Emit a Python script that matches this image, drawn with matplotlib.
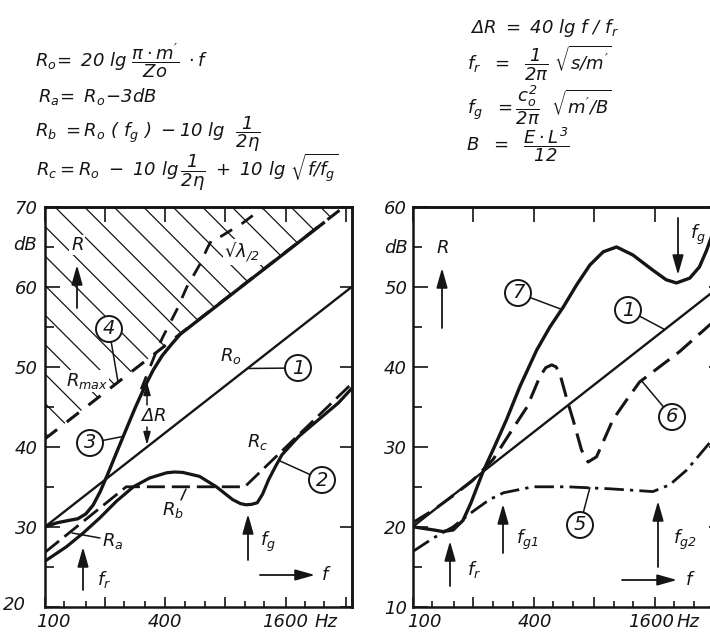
"""
Schalldämmung einschaliger / zweischaliger Bauteile – Nachzeichnung als PNG.
"""
import numpy as np
import matplotlib
matplotlib.use("Agg")
import matplotlib.pyplot as plt
from matplotlib import font_manager as fm
from matplotlib.patches import FancyArrowPatch
from matplotlib.ticker import FixedLocator, NullFormatter, NullLocator
from matplotlib.transforms import offset_copy


def _font(names):
    for n in names:
        try:
            fm.findfont(fm.FontProperties(family=n), fallback_to_default=False)
            return n
        except ValueError:
            pass
    return "DejaVu Sans"


FONT = _font(["Liberation Sans Narrow", "DejaVu Sans"])
NARROW = FONT != "DejaVu Sans"

plt.rcParams.update({
    "font.family": FONT,
    "font.style": "italic",
    "mathtext.fontset": "custom",
    "mathtext.rm": FONT,
    "mathtext.it": FONT + ":italic",
    "mathtext.bf": FONT + ":bold",
    "mathtext.sf": FONT,
    "mathtext.default": "it",
    "mathtext.fallback": "stixsans",
    "axes.linewidth": 1.8,
})

K = "#151515"
FIG_W, FIG_H = 710, 634
FS_TICK = 16 if NARROW else 13
FS_FORM = 16.5 if NARROW else 13
FS_LBL = 16 if NARROW else 13
FS_CIRC = 17 if NARROW else 14

# ── Achsen ────────────────────────────────────────────────────────────────────
F_LIM = (100, 3430)
TERZ = [100, 125, 160, 200, 250, 315, 400, 500, 630, 800, 1000, 1250, 1600, 2000, 2500]
OKTAV = [100, 200, 400, 800, 1600, 3200]
X_LBL = ["100", "400", "1600"]
X_LBL_F = [100, 400, 1600]
Y_L = [20, 30, 40, 50, 60, 70]
Y_L_LBL = ["", "30", "40", "50", "60", "70"]
Y_R = [10, 20, 30, 40, 50, 60]
Y_R_LBL = ["10", "20", "30", "40", "50", "60"]

# ── linkes Diagramm ──────────────────────────────────────────────────────────
R0_L_F = [100, 3430]
R0_L_DB = [30.0, 60.0]
RABC_F = [100, 255, 1000, 3430]
RABC_DB = [26.8, 35.0, 35.0, 47.9]
K2_F = [100, 128, 155, 188, 228, 277, 334, 406, 444, 489, 594, 721, 869, 951,
        1013, 1078, 1155, 1229, 1317, 1422, 1535, 1863, 2342, 2944, 3430]
K2_DB = [25.7, 27.5, 29.2, 31.1, 33.2, 35.0, 36.1, 36.75, 36.85, 36.8, 36.3, 35.0,
         33.4, 32.9, 32.75, 32.8, 33.0, 34.1, 35.9, 37.5, 39.0, 41.3, 43.4, 45.5, 47.3]
K3_F = [100, 115, 132, 146, 160, 174, 189, 207, 230, 255, 283, 314, 348, 386, 429, 476, 2476]
K3_DB = [30.0, 30.5, 30.8, 31.0, 31.6, 32.7, 34.4, 36.7, 39.5, 42.2, 44.9, 47.4,
         49.6, 51.4, 52.8, 54.1, 68.0]
RMAX_F = [100, 3130]
RMAX_DB = [41.0, 70.0]
L2_F = [303, 336, 363, 389, 456, 513, 594, 654, 692, 752, 978, 1188, 1240]
L2_DB = [47.2, 50.0, 52.1, 53.75, 57.1, 60.0, 62.75, 65.0, 66.1, 66.25, 68.0, 69.6, 70.0]

# ── rechtes Diagramm ─────────────────────────────────────────────────────────
R0_R_F = [100, 3430]
R0_R_DB = [20.0, 50.2]
K7_F = [100, 127, 141, 159, 178, 195, 224, 255, 293, 341, 414, 482, 562, 654, 762,
        888, 1034, 1246, 1567, 1825, 2054, 2392, 2672, 2904, 3091, 3313]
K7_DB = [20.0, 19.6, 19.4, 19.6, 20.8, 23.0, 26.9, 30.0, 33.4, 37.5, 42.1, 45.0,
         47.5, 50.25, 52.75, 54.4, 55.0, 54.0, 52.1, 50.9, 50.5, 51.1, 52.5, 54.6, 56.5, 59.0]
K6_F = [100, 127, 159, 197, 251, 312, 371, 429, 459, 492, 517, 539, 586, 628, 692,
        746, 822, 992, 1163, 1345, 1691, 2126, 3006, 3430]
K6_DB = [20.5, 22.1, 23.9, 25.7, 28.4, 32.1, 35.0, 38.75, 39.9, 40.25, 40.0, 39.2,
         35.9, 33.4, 29.6, 28.1, 28.75, 33.4, 35.9, 38.1, 40.0, 41.9, 45.25, 46.3]
K5_F = [100, 127, 159, 199, 241, 283, 397, 586, 958, 1567, 1902, 2310, 3006, 3430]
K5_DB = [16.9, 18.6, 20.0, 21.9, 23.4, 24.25, 25.0, 25.0, 24.75, 24.4, 25.25, 27.1, 30.5, 32.3]


fig = plt.figure(figsize=(FIG_W / 100, FIG_H / 100), dpi=100, facecolor="white")


def P(x, y):
    """Pixel (von oben links) -> Figure-Bruchteil."""
    return (x / FIG_W, 1 - y / FIG_H)


def rect(x0, y_top, w, h):
    return [x0 / FIG_W, 1 - (y_top + h) / FIG_H, w / FIG_W, h / FIG_H]


def txt(x, y, s, size=FS_LBL, bg=False, **kw):
    kw.setdefault("ha", "center")
    kw.setdefault("va", "center")
    t = fig.text(*P(x, y), s, fontsize=size, color=K, **kw)
    if bg:
        t.set_bbox(dict(boxstyle="square,pad=0.08", fc="white", ec="none"))
    return t


def arrow(x0, y0, x1, y1, ms=14, lw=1.3):
    fig.add_artist(FancyArrowPatch(
        P(x0, y0), P(x1, y1), transform=fig.transFigure,
        arrowstyle="-|>,head_length=0.85,head_width=0.24",
        mutation_scale=ms, lw=lw, color=K, shrinkA=0, shrinkB=0, zorder=5))


def leader(x0, y0, x1, y1, lw=1.1):
    fig.add_artist(FancyArrowPatch(
        P(x0, y0), P(x1, y1), transform=fig.transFigure, arrowstyle="-",
        lw=lw, color=K, shrinkA=0, shrinkB=0, zorder=5))


def circ(ax, num, x, y, f, db):
    ax.annotate(num, xy=(f, db), xycoords="data", xytext=P(x, y),
                textcoords="figure fraction", ha="center", va="center",
                fontsize=FS_CIRC, color=K, zorder=6,
                bbox=dict(boxstyle="circle,pad=0.18", fc="white", ec=K, lw=1.4),
                arrowprops=dict(arrowstyle="-", color=K, lw=1.1,
                                shrinkA=0, shrinkB=0))


def setup(ax, yt, ylbl, pad, xoff, hz_off):
    ax.set_xscale("log")
    ax.set_xlim(*F_LIM)
    ax.set_ylim(yt[0], yt[-1])
    ax.xaxis.set_major_locator(FixedLocator(OKTAV))
    ax.xaxis.set_minor_locator(FixedLocator(TERZ))
    ax.xaxis.set_major_formatter(NullFormatter())
    ax.xaxis.set_minor_formatter(NullFormatter())
    ax.set_yticks(yt, ylbl)
    ax.yaxis.set_minor_locator(FixedLocator([v + 5 for v in yt[:-1]]))
    ax.tick_params(axis="x", which="major", direction="in", length=7.2, width=1.1, top=False)
    ax.tick_params(axis="x", which="minor", direction="in", length=4.3, width=1.1, top=False)
    ax.tick_params(axis="y", which="major", direction="in", length=10.8, width=1.1,
                   right=False, pad=pad, labelsize=FS_TICK, labelcolor=K)
    ax.tick_params(axis="y", which="minor", direction="in", length=6.5, width=1.1, right=False)
    for s in ax.spines.values():
        s.set_color(K)

    sx = ax.secondary_xaxis("top")
    sx.set_xticks(OKTAV)
    sx.xaxis.set_minor_locator(NullLocator())
    sx.tick_params(direction="in", length=10.8, width=1.1, labeltop=False)
    sx.xaxis.set_major_formatter(NullFormatter())
    sy = ax.secondary_yaxis("right")
    sy.set_yticks(yt)
    sy.yaxis.set_minor_locator(NullLocator())
    sy.tick_params(direction="in", length=8.6, width=1.1, labelright=False)
    sy.yaxis.set_major_formatter(NullFormatter())

    for f, s, dx in zip(X_LBL_F, X_LBL, xoff):
        ax.text(f, 0, s, fontsize=FS_TICK, color=K, ha="center", va="center",
                transform=offset_copy(ax.get_xaxis_transform(), fig=fig,
                                      x=dx, y=-15.5, units="dots"))
    ax.text(1600, 0, "Hz", fontsize=FS_TICK, color=K, ha="center", va="center",
            transform=offset_copy(ax.get_xaxis_transform(), fig=fig,
                                  x=hz_off, y=-15.5, units="dots"))


def hatch(ax, f, lo, hi, step=29.5, phase=10):
    coll = ax.fill_between(f, lo, hi, facecolor="none", edgecolor="none")
    clip = coll.get_paths()[0]
    bb = ax.get_window_extent()
    W, H = bb.width, bb.height
    for xt in np.arange(phase - np.ceil(H / step) * step, W, step):
        ln, = ax.plot([xt / W, (xt + H) / W], [1, 0], transform=ax.transAxes,
                      color=K, lw=0.9, zorder=1.5)
        ln.set_clip_path(clip, coll.get_transform())


# ── linkes Diagramm ──────────────────────────────────────────────────────────
axL = fig.add_axes(rect(45, 207, 306.7, 399.7))
setup(axL, Y_L, Y_L_LBL, 5.4, [8.5, 0, 0], 40)
hatch(axL, RMAX_F, RMAX_DB, [70, 70])
axL.plot(RMAX_F, RMAX_DB, color=K, lw=2.2, dashes=(5, 4), zorder=2)
axL.plot(R0_L_F, R0_L_DB, color=K, lw=1.7, zorder=3)
axL.plot(RABC_F, RABC_DB, color=K, lw=2.0, dashes=(6.5, 2.5), zorder=3)
axL.plot(K2_F, K2_DB, color=K, lw=2.3, solid_joinstyle="round", zorder=3)
axL.plot(K3_F, K3_DB, color=K, lw=2.4, solid_joinstyle="round", zorder=3)
axL.plot(L2_F, L2_DB, color=K, lw=2.0, dashes=(5, 4), zorder=3)

fig.text(*P(37, 245), "dB", fontsize=FS_TICK, color=K, ha="right", va="center")
fig.text(*P(14, 605), "20", fontsize=FS_TICK, color=K, ha="center", va="center")

txt(77, 245, "$R$", bg=True)
arrow(77, 308, 77, 265)
txt(231, 356, "$R_o$")
txt(87, 381, "$R_{max}$", bg=True)
txt(258, 442, "$R_c$")
txt(173, 510, "$R_b$")
leader(181, 500, 186, 489)
txt(113, 541, "$R_a$")
leader(100, 538, 72, 533)
txt(242, 252, "$\u221a\\lambda_{/2}$", bg=True)
txt(153, 416, r"$\Delta R$")
arrow(147, 405, 147, 382, ms=9, lw=1.1)
arrow(147, 427, 147, 445, ms=9, lw=1.1)
arrow(83, 590, 83, 547)
txt(104, 580, "$f_r$")
arrow(248, 560, 248, 514)
txt(268, 542, "$f_g$")
arrow(260, 575, 315, 575)
txt(326, 575, "$f$")

circ(axL, "4", 109, 329, 232, 48.1)
circ(axL, "1", 298, 368, 1027, 49.8)
circ(axL, "3", 90, 443, 246, 41.3)
circ(axL, "2", 322, 480, 1480, 38.3)

# ── rechtes Diagramm ─────────────────────────────────────────────────────────
axR = fig.add_axes(rect(412.7, 207, 308.5, 399.7))
setup(axR, Y_R, Y_R_LBL, 4.0, [12, 1.5, -3.5], 33)
axR.plot(R0_R_F, R0_R_DB, color=K, lw=1.7, zorder=3)
axR.plot(K6_F, K6_DB, color=K, lw=2.2, dashes=(6.5, 3), zorder=3)
axR.plot(K5_F, K5_DB, color=K, lw=2.0, dashes=(7, 2.2, 1.2, 2.2), zorder=3)
axR.plot(K7_F, K7_DB, color=K, lw=2.4, solid_joinstyle="round", zorder=3)

fig.text(*P(408, 248), "dB", fontsize=FS_TICK, color=K, ha="right", va="center")
txt(442, 248, "$R$")
arrow(442, 328, 442, 268)
arrow(450, 586, 450, 541)
txt(474, 570, "$f_r$")
arrow(503, 553, 503, 504)
txt(527, 540, "$f_{g1}$")
arrow(658, 567, 658, 501)
txt(685, 540, "$f_{g2}$")
arrow(678, 218, 678, 275)
txt(698, 235, "$f_g$")
arrow(622, 580, 677, 580)
txt(690, 580, "$f$")

circ(axR, "7", 518, 293, 550, 47.2)
circ(axR, "1", 628, 310, 1787, 44.7)
circ(axR, "6", 672, 417, 1373, 38.3)
circ(axR, "5", 580, 525, 762, 24.9)

# ── Formeln ──────────────────────────────────────────────────────────────────
FORMELN = [
    (35, 67, r"$R_o\!=\ 20\ lg\ \dfrac{\pi\cdot m'}{Zo}\ \cdot f$"),
    (38, 102, r"$R_a\!=\ R_o\!-\!3dB$"),
    (35, 137, r"$R_b\ = R_o\ (\ f_g\ )\ -10\ lg\ \ \dfrac{1}{2\eta}$"),
    (36, 176, r"$R_c = R_o\ -\ 10\ lg\,\dfrac{1}{2\eta}\ +\ 10\ lg\ \sqrt{f/f_g}$"),
    (470, 33, r"$\Delta R\ =\ 40\ lg\ f\ /\ f_r$"),
    (467, 70, r"$f_r\ \ =\ \ \dfrac{1}{2\pi}\ \sqrt{s/m'}$"),
    (467, 114, r"$f_g\ \ =\dfrac{c_o^2}{2\pi}\ \ \sqrt{m'/B}$"),
    (466, 151, r"$B\ \ =\ \ \dfrac{E\cdot L^3}{12}$"),
]
for x, y, s in FORMELN:
    txt(x, y, s, size=FS_FORM, ha="left", va="baseline")

fig.savefig("out.png", dpi=100, facecolor="white")
